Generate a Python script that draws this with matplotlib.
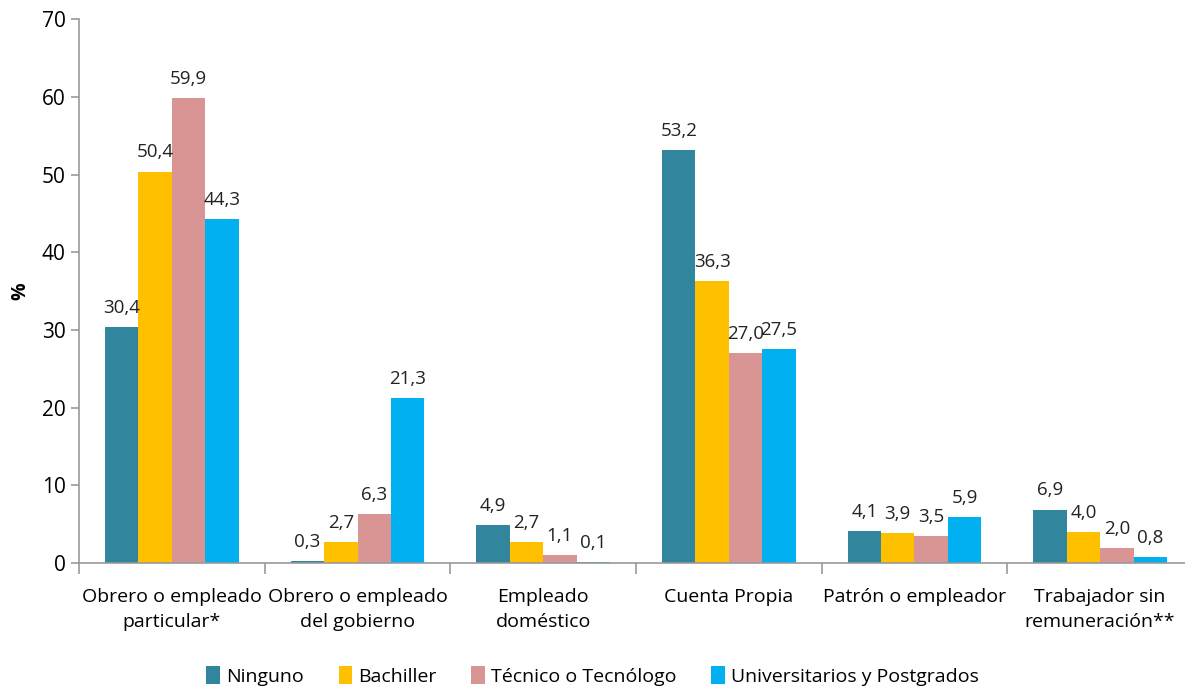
import numpy as np
import matplotlib.pyplot as plt

categorias = ["Obrero o empleado\nparticular*", "Obrero o empleado\ndel gobierno",
              "Empleado\ndoméstico", "Cuenta Propia", "Patrón o empleador",
              "Trabajador sin\nremuneración**"]
series = ["Ninguno", "Bachiller", "Técnico o Tecnólogo", "Universitarios y Postgrados"]
ninguno = [30.4, 0.3, 4.9, 53.2, 4.1, 6.9]
bachiller = [50.4, 2.7, 2.7, 36.3, 3.9, 4.0]
tecnico = [59.9, 6.3, 1.1, 27.0, 3.5, 2.0]
universitarios = [44.3, 21.3, 0.1, 27.5, 5.9, 0.8]
colores = ["#31859C", "#FFC000", "#D99594", "#00B0F0"]

plt.rcParams['font.family'] = ['Open Sans', 'DejaVu Sans']

fig = plt.figure(figsize=(11.85, 6.86), dpi=100)
ax = fig.add_axes([0.0667, 0.179, 0.94, 0.793])

x = np.arange(len(categorias))
w = 0.18
valores = [ninguno, bachiller, tecnico, universitarios]
for i, (nombre, vals) in enumerate(zip(series, valores)):
    pos = x + (i - 1.5) * w
    ax.bar(pos, vals, w, color=colores[i], label=nombre, zorder=2)
    for p, v in zip(pos, vals):
        ax.text(p, v + 1.3, ("%.1f" % v).replace(".", ","), ha="center",
                va="bottom", fontsize=13.5, color="#222222")

ax.set_xlim(-0.5, len(categorias) - 0.5)
ax.set_ylim(0, 70)
ax.set_yticks(range(0, 71, 10))
ax.set_xticks(np.arange(-0.5, len(categorias), 1.0))
ax.set_xticklabels([])
ax.set_xticks(x, minor=True)
ax.set_xticklabels(categorias, minor=True, fontsize=14)
ax.tick_params(axis="x", which="minor", length=0, pad=18)
ax.tick_params(axis="x", which="major", length=8, color="#999999", width=1.2)
ax.tick_params(axis="y", length=6, color="#999999", width=1.2, labelsize=15)
for t in ax.get_xticklabels(minor=True):
    t.set_linespacing(1.45)

for s in ["top", "right"]:
    ax.spines[s].set_visible(False)
for s in ["left", "bottom"]:
    ax.spines[s].set_color("#999999")
    ax.spines[s].set_linewidth(1.2)

ax.set_ylabel("%", fontsize=14, fontweight="bold", labelpad=8)

fig.legend(*ax.get_legend_handles_labels(), loc="lower center",
           bbox_to_anchor=(0.5, -0.025), ncol=4, frameon=False,
           fontsize=14, handlelength=0.7, handleheight=1.0, handletextpad=0.3,
           columnspacing=1.8)

fig.savefig("out.png", dpi=100)
